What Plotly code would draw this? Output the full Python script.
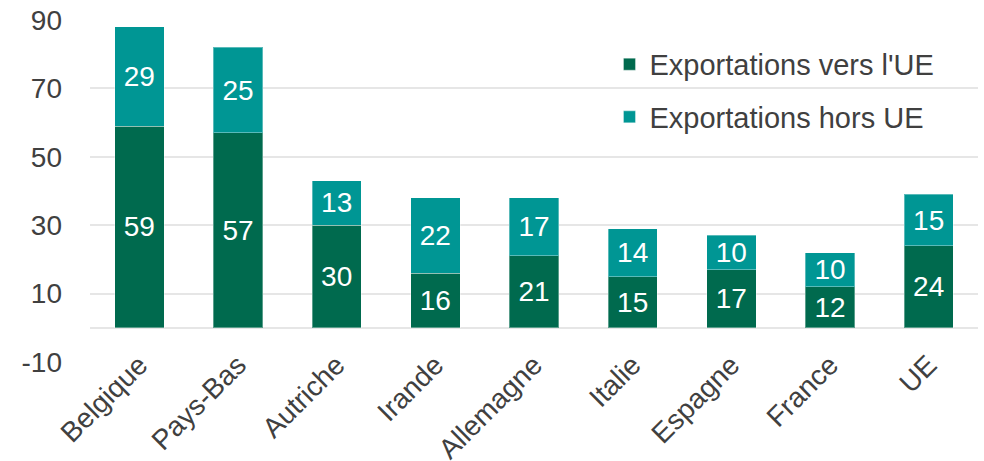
import plotly.graph_objects as go

# Exportations par pays, en % du PIB
pays = ["Belgique", "Pays-Bas", "Autriche", "Irande", "Allemagne",
        "Italie", "Espagne", "France", "UE"]
vers_ue = [59, 57, 30, 16, 21, 15, 17, 12, 24]
hors_ue = [29, 25, 13, 22, 17, 14, 10, 10, 15]
y_ticks = [-10, 10, 30, 50, 70, 90]
y_tick_text = ["-10", "10", "30", "50", "70", "90"]

VERT_FONCE = "#006A4E"
TURQUOISE = "#009694"
TEXTE = "#404040"
POLICE = "Liberation Sans, Arial, sans-serif"
TAILLE = 28

fig = go.Figure()
fig.add_trace(go.Bar(
    x=pays, y=vers_ue, name="Exportations vers l'UE",
    marker=dict(color=VERT_FONCE, line=dict(color="rgba(255,255,255,0.35)", width=1)),
    text=vers_ue, textposition="inside", insidetextanchor="middle",
    textangle=0, constraintext="none",
    textfont=dict(color="white", size=TAILLE, family=POLICE),
    legendgroup="a",
))
fig.add_trace(go.Bar(
    x=pays, y=hors_ue, name="Exportations hors UE",
    marker=dict(color=TURQUOISE, line=dict(color="rgba(255,255,255,0.35)", width=1)),
    text=hors_ue, textposition="inside", insidetextanchor="middle",
    textangle=0, constraintext="none",
    textfont=dict(color="white", size=TAILLE, family=POLICE),
    legendgroup="b",
))

fig.update_layout(
    width=984, height=461,
    barmode="stack", bargap=0.5,
    plot_bgcolor="white", paper_bgcolor="white",
    margin=dict(l=90, r=6, t=20, b=99),
    font=dict(family=POLICE, color=TEXTE, size=TAILLE),
    showlegend=True,
    legend=dict(
        x=0.585, y=0.945, xanchor="left", yanchor="top",
        traceorder="grouped", tracegroupgap=12,
        font=dict(size=29, color=TEXTE, family=POLICE),
        bgcolor="rgba(255,255,255,0)",
    ),
)
fig.update_xaxes(
    tickangle=-45, tickfont=dict(size=TAILLE, color=TEXTE),
    showgrid=False, showline=False, ticks="", automargin=False,
    ticklabelstandoff=-20,
)
fig.update_yaxes(
    range=[-10, 90], tickvals=y_ticks, ticktext=y_tick_text,
    tickfont=dict(size=TAILLE, color=TEXTE),
    showgrid=True, gridcolor="#E6E6E6", gridwidth=1.5,
    zeroline=True, zerolinecolor="#E6E6E6", zerolinewidth=1.5,
    showline=False, ticks="", ticklabelstandoff=27, automargin=False,
)

fig.write_html("out.html")
